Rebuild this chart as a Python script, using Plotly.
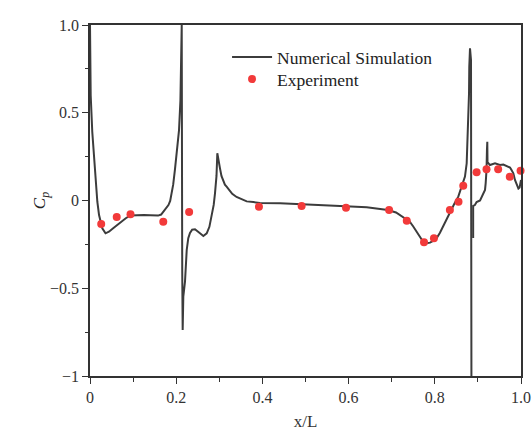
import plotly.graph_objects as go

# Numerical simulation: pressure coefficient along the body (None breaks the line)
sim_x = [0.0, 0.0, 0.0016, 0.0053, 0.0093, 0.0132, 0.017, 0.021, 0.0285, 0.036, 0.044,
         0.053, 0.063, 0.073, 0.083, 0.094, 0.110, 0.125, 0.140, 0.158, 0.165, 0.170, 0.176,
         0.182, 0.186, 0.1896, 0.193, 0.197, 0.2026, 0.2065, 0.2098, 0.2118, 0.2128,
         0.2140, 0.2150, 0.2165, 0.2204, 0.2244, 0.228, 0.232, 0.237, 0.2436, 0.250,
         0.2552, 0.263, 0.2708, 0.277, 0.2824, 0.287, 0.290, 0.2935, 0.2954, 0.298,
         0.3016, 0.305, 0.3093, 0.313, 0.317, 0.3248, 0.330, 0.340, 0.350, 0.3636, 0.379,
         0.394, 0.441, 0.487, 0.540, 0.580, 0.642, 0.691, 0.710, 0.726, 0.742, 0.750, 0.758,
         0.766, 0.773, 0.781, 0.789, 0.797, 0.804, 0.812, 0.819, 0.827, 0.835, 0.845, 0.8545,
         0.861, 0.866, 0.870, 0.874, 0.8777, 0.8794, 0.880, 0.8810, 0.8817, 0.8840, 0.8850,
         None,
         0.8890, 0.8890, 0.893, 0.897, 0.905, 0.9076, 0.914, 0.9165, 0.918, 0.920, 0.921,
         0.9218, 0.9223, 0.928, 0.9397, 0.951, 0.959, 0.9705, 0.9745, 0.978, 0.9822,
         0.986, 0.990, 0.994, 0.9968, 0.999, 1.0]
sim_cp = [1.0, 0.81, 0.60, 0.39, 0.24, 0.107, -0.007, -0.083, -0.158, -0.187, -0.178,
          -0.160, -0.140, -0.120, -0.101, -0.085, -0.083, -0.083, -0.084, -0.086, -0.080, -0.064, -0.045,
          -0.026, -0.002, 0.041, 0.090, 0.174, 0.288, 0.40, 0.57, 0.80, 1.0,
          -0.40, -0.738, -0.548, -0.463, -0.282, -0.215, -0.185, -0.166, -0.164, -0.174,
          -0.187, -0.202, -0.187, -0.150, -0.092, -0.025, 0.041, 0.140, 0.269, 0.225,
          0.183, 0.140, 0.107, 0.090, 0.079, 0.050, 0.038, 0.020, 0.008, -0.005, -0.009,
          -0.014, -0.016, -0.020, -0.024, -0.031, -0.039, -0.054, -0.068, -0.092, -0.121, -0.148, -0.178,
          -0.208, -0.235, -0.243, -0.240, -0.229, -0.215, -0.184, -0.149, -0.108, -0.064, -0.020, 0.022,
          0.065, 0.107, 0.136, 0.212, 0.420, 0.611, 0.762, 0.820, 0.867, 0.80, -1.05,
          None,
          -0.214, -0.031, -0.026, -0.009, 0.0, 0.013, 0.041, 0.060, 0.098, 0.174, 0.288,
          0.335, 0.219, 0.202, 0.212, 0.202, 0.205, 0.193, 0.188, 0.174, 0.155,
          0.117, 0.088, 0.068, 0.074, 0.103, 0.117]

# Experimental measurements
exp_x = [0.026, 0.062, 0.094, 0.170, 0.230, 0.392, 0.491, 0.594, 0.694, 0.735,
         0.775, 0.798, 0.835, 0.855, 0.866, 0.897, 0.920, 0.947, 0.974, 0.999]
exp_cp = [-0.134, -0.094, -0.079, -0.121, -0.066, -0.035, -0.031, -0.041, -0.054, -0.115,
          -0.238, -0.215, -0.054, -0.007, 0.084, 0.161, 0.178, 0.178, 0.136, 0.170]

x_ticks = [0, 0.2, 0.4, 0.6, 0.8, 1.0]
x_labels = ["0", "0.2", "0.4", "0.6", "0.8", "1.0"]
x_minor = [0.1, 0.3, 0.5, 0.7, 0.9]
y_ticks = [-1, -0.5, 0, 0.5, 1.0]
y_labels = ["\u22121", "\u22120.5", "0", "0.5", "1.0"]
y_minor = [-0.75, -0.25, 0.25, 0.75]

FONT = "Liberation Serif, Times New Roman, serif"
INK = "#333333"

fig = go.Figure()
fig.add_trace(go.Scatter(
    x=sim_x, y=sim_cp, mode="lines", name="Numerical Simulation",
    line=dict(color="#3c3c3c", width=2), connectgaps=False,
    legend="legend",
))
fig.add_trace(go.Scatter(
    x=exp_x, y=exp_cp, mode="markers", name="Experiment",
    marker=dict(color="#f23a3a", size=8, line=dict(width=0)),
    cliponaxis=False, legend="legend2",
))

axis_common = dict(
    showline=True, linecolor=INK, linewidth=1.5, mirror=True,
    ticks="outside", ticklen=6, tickwidth=1.2, tickcolor=INK,
    showgrid=False, zeroline=False, automargin=False,
    tickfont=dict(family=FONT, size=16, color=INK),
)

legend_common = dict(
    xanchor="left", yanchor="top",
    bgcolor="rgba(0,0,0,0)", borderwidth=0,
    font=dict(family=FONT, size=17.5, color="#222222"),
    itemwidth=40,
)

fig.update_layout(
    width=532, height=431,
    margin=dict(l=90, r=11, t=25, b=55),
    paper_bgcolor="white", plot_bgcolor="white",
    font=dict(family=FONT, size=16, color=INK),
    xaxis=dict(
        range=[0, 1.0], tickmode="array", tickvals=x_ticks, ticktext=x_labels,
        minor=dict(tickvals=x_minor, ticks="outside", ticklen=4, tickwidth=1.2, tickcolor=INK),
        title=dict(text="x/L", font=dict(family=FONT, size=17, color=INK), standoff=13),
        **axis_common,
    ),
    yaxis=dict(
        range=[-1, 1.0], tickmode="array", tickvals=y_ticks, ticktext=y_labels,
        minor=dict(tickvals=y_minor, ticks="outside", ticklen=3, tickwidth=1.2, tickcolor=INK),
        title=dict(text="<i>C<sub>p</sub></i>", font=dict(family=FONT, size=17, color="#222222"), standoff=0),
        **axis_common,
    ),
    legend=dict(x=0.318, y=0.960, **legend_common),
    legend2=dict(x=0.318, y=0.897, **legend_common),
    showlegend=True,
)

fig.write_html("out.html")
